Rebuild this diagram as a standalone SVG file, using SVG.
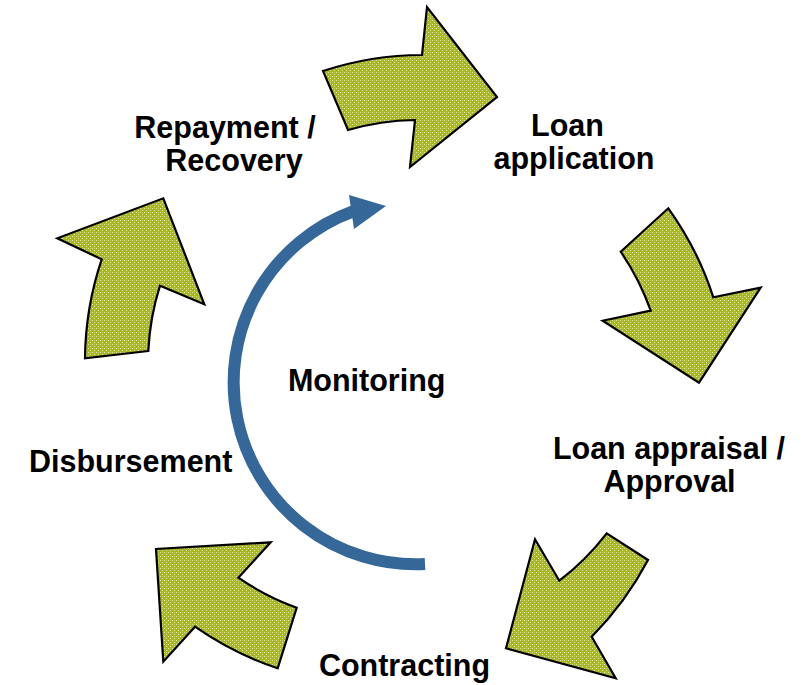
<svg xmlns="http://www.w3.org/2000/svg" width="803" height="685" viewBox="0 0 803 685">
  <defs>
    <!-- speckled olive fill used by the cycle arrows -->
    <pattern id="speckle" patternUnits="userSpaceOnUse" width="4" height="4">
      <rect width="4" height="4" fill="#a8b621"/>
      <rect x="0" y="0" width="1" height="1" fill="#e0e6a8"/>
      <rect x="2" y="2" width="1" height="1" fill="#e0e6a8"/>
      <rect x="2" y="0" width="1" height="1" fill="#bec853"/>
    </pattern>
  </defs>
  <style>
    .label { font-family: "Liberation Sans", Arial, sans-serif; font-weight: bold; font-size: 30.5px; fill: #000; text-anchor: middle; }
    .step { fill: url(#speckle); stroke: #000; stroke-width: 2.2; stroke-linejoin: miter; }
    .monitor { fill: none; stroke: #356899; stroke-width: 12; }
    .monitor-head { fill: #356899; }
  </style>

  <rect width="803" height="685" fill="#fff"/>

  <!-- cycle arrows between the stages, plus the monitoring loop -->
  <g id="connectors">
    <path id="arrow-application" class="step"
          d="M 323 71 A 319 319 0 0 1 422 55 L 427 7 L 497 97 L 410 167 L 415 120 A 256 256 0 0 0 348 130 Z"/>
    <path id="arrow-appraisal" class="step"
          d="M 620.7 251.7 L 668.3 208.3 A 319 319 0 0 1 713.3 297.3 L 760.7 287.7 L 699 382.7 L 602.7 320.7 L 650.7 310.7 A 255 255 0 0 0 620.7 251.7 Z"/>
    <path id="arrow-contracting" class="step"
          d="M 606.7 533.3 L 648 560 A 322 322 0 0 1 591.7 636.7 L 615.7 678.3 L 506 648.3 L 535 539.3 L 559.3 580.7 A 258 258 0 0 0 606.7 533.3 Z"/>
    <path id="arrow-disbursement" class="step"
          d="M 296.7 607.7 L 277.7 668.3 A 319 319 0 0 1 195 626.7 L 163.3 661.7 L 156 549 L 270.7 542.3 L 238.3 577.7 A 258 258 0 0 0 296.7 607.7 Z"/>
    <path id="arrow-repayment" class="step"
          d="M 148.3 351 L 85 358.3 A 319 319 0 0 1 101.7 259.3 L 57.3 238.3 L 163.3 198.3 L 204.3 304.3 L 160 285.7 A 256 256 0 0 0 148.3 351 Z"/>

    <g id="monitoring-loop">
      <path class="monitor" d="M 425 564 A 182 182 0 0 1 354 211"/>
      <polygon class="monitor-head" points="349,195 386,206 354,229"/>
    </g>
  </g>

  <g id="node-repayment">
    <text class="label" x="225" y="138">Repayment /</text>
    <text class="label" x="234" y="171">Recovery</text>
  </g>
  <g id="node-application">
    <text class="label" x="567.5" y="136">Loan</text>
    <text class="label" x="574" y="169">application</text>
  </g>
  <g id="node-appraisal">
    <text class="label" x="669" y="459">Loan appraisal /</text>
    <text class="label" x="669.5" y="492">Approval</text>
  </g>
  <g id="node-contracting">
    <text class="label" x="404.5" y="676">Contracting</text>
  </g>
  <g id="node-disbursement">
    <text class="label" x="130.7" y="472">Disbursement</text>
  </g>
  <g id="node-monitoring">
    <text class="label" x="366.7" y="391">Monitoring</text>
  </g>
</svg>
